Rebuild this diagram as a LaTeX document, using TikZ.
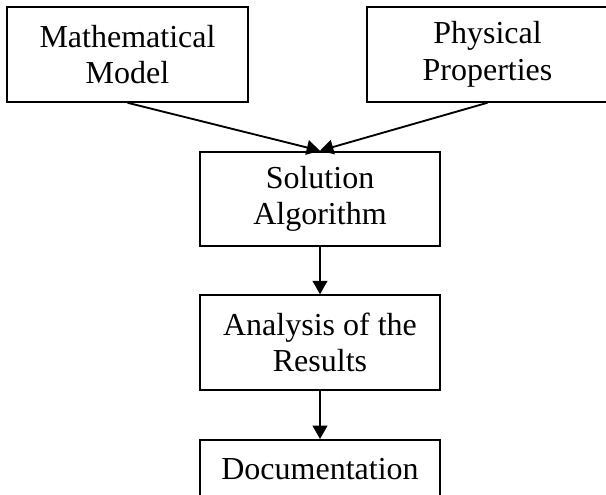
\documentclass[tikz,border=0pt]{standalone}
\usepackage{fontspec}
\setmainfont{Liberation Serif}
\usetikzlibrary{arrows.meta}

\tikzset{
  stage/.style={draw, line width=1.4pt, minimum width=180.5pt, minimum height=71pt,
    inner sep=0pt, align=center, font=\fontsize{24}{27.5}\selectfont},
}

\begin{document}
\begin{tikzpicture}[x=0.75pt, y=-0.75pt, >={Triangle[length=10pt,width=11pt]}]
  \useasboundingbox (0,0) rectangle (606,495);

  % stages
  \draw (127.5,54.5) node[stage] (v1) {Mathematical\\Model};
  \draw (487.5,54.5) node[stage] (v2) {Physical\\Properties};
  \draw (320,199)    node[stage] (v3) {Solution\\Algorithm};
  \draw (320,342.5)  node[stage] (v4) {Analysis of the\\Results};
  \draw (320,439)    node[stage, anchor=north, text height=30pt, text depth=45pt] (v5) {Documentation};

  \draw[->, line width=1.4pt] (v1.south) -- (v3.north);
  \draw[->, line width=1.4pt] (v2.south) -- (v3.north);
  \draw[->, line width=1.4pt] (v3.south) -- (v4.north);
  \draw[->, line width=1.4pt] (v4.south) -- (v5.north);

\end{tikzpicture}
\end{document}
